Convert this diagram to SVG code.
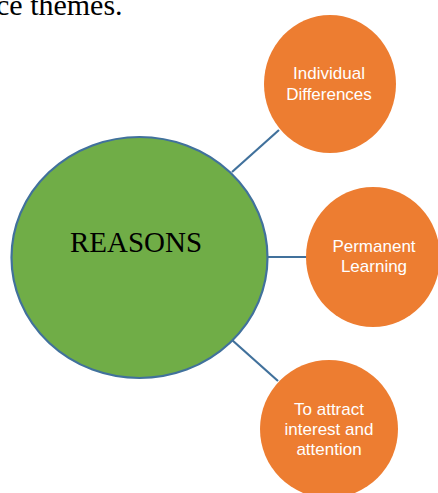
<svg xmlns="http://www.w3.org/2000/svg" width="438" height="493" viewBox="0 0 438 493">
<style>
.conn{stroke:#41719C;stroke-width:2.2;fill:none}
.leaf{fill:#ED7D31}
.lt{font-family:"Liberation Sans",Arial,sans-serif;font-size:17px;fill:#FFFFFF;text-anchor:middle}
</style>
<rect width="438" height="493" fill="#FFFFFF"/>
<text x="-4" y="15" font-family="Liberation Serif,serif" font-size="30" fill="#000">ce themes.</text>
<g id="connectors">
<line class="conn" x1="232" y1="172" x2="279" y2="130"/>
<line class="conn" x1="267" y1="257" x2="307" y2="257"/>
<line class="conn" x1="232" y1="340" x2="278" y2="381"/>
</g>
<g id="reasons">
<ellipse cx="139.5" cy="257.5" rx="128" ry="120.5" fill="#70AD47" stroke="#41719C" stroke-width="2.2"/>
<text x="136" y="252" font-family="Liberation Serif,serif" font-size="29" fill="#000" text-anchor="middle">REASONS</text>
</g>
<g id="individual">
<ellipse class="leaf" cx="330" cy="84" rx="66" ry="69"/>
<text class="lt" x="329" y="79">Individual</text>
<text class="lt" x="329" y="100">Differences</text>
</g>
<g id="permanent">
<ellipse class="leaf" cx="373" cy="257" rx="67" ry="70"/>
<text class="lt" x="374" y="252">Permanent</text>
<text class="lt" x="374" y="272">Learning</text>
</g>
<g id="attract">
<ellipse class="leaf" cx="329" cy="429" rx="69" ry="69"/>
<text class="lt" x="329" y="415">To attract</text>
<text class="lt" x="329" y="435">interest and</text>
<text class="lt" x="329" y="455">attention</text>
</g>
</svg>
